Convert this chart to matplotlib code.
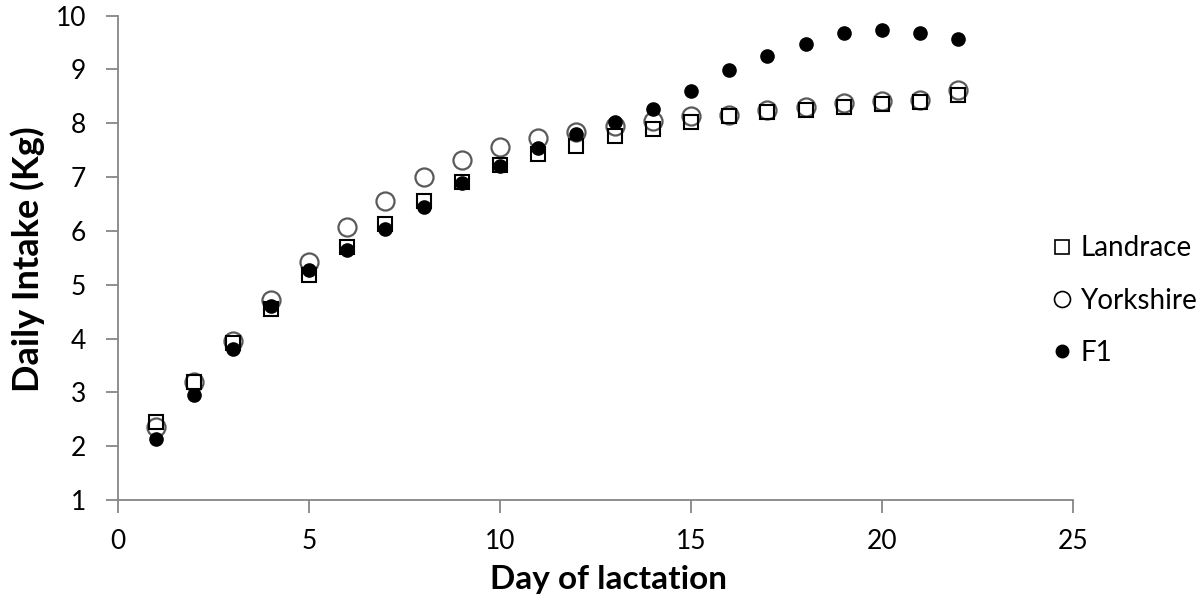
import matplotlib
matplotlib.use("Agg")
import matplotlib.pyplot as plt

plt.rcParams['font.family'] = ['Lato', 'DejaVu Sans']

days = list(range(1, 23))
landrace = [2.45, 3.20, 3.92, 4.55, 5.18, 5.70, 6.12, 6.55, 6.90, 7.22, 7.42,
            7.58, 7.76, 7.90, 8.02, 8.13, 8.20, 8.25, 8.30, 8.35, 8.40, 8.52]
yorkshire = [2.35, 3.20, 3.95, 4.72, 5.42, 6.07, 6.56, 7.00, 7.32, 7.56, 7.72,
             7.84, 7.95, 8.05, 8.13, 8.15, 8.25, 8.30, 8.37, 8.42, 8.43, 8.62]
f1 = [2.13, 2.95, 3.80, 4.60, 5.27, 5.65, 6.03, 6.45, 6.88, 7.20, 7.53,
      7.80, 8.03, 8.26, 8.60, 8.98, 9.25, 9.47, 9.68, 9.74, 9.67, 9.57]
series_names = ["Landrace", "Yorkshire", "F1"]

axis_grey = "#868686"

fig = plt.figure(figsize=(12.02, 5.98), dpi=100)
ax = fig.add_axes([0.0982, 0.1639, 0.7945, 0.8101])

ax.plot(days, yorkshire, linestyle="none", marker="o", markersize=13,
        markerfacecolor="none", markeredgecolor="#5a5a5a", markeredgewidth=1.6,
        zorder=2)
ax.plot(days, landrace, linestyle="none", marker="s", markersize=10.5,
        markerfacecolor="none", markeredgecolor="black", markeredgewidth=1.5,
        zorder=3)
ax.plot(days, f1, linestyle="none", marker="o", markersize=9.5,
        markerfacecolor="black", markeredgecolor="black", zorder=4)

ax.set_xlim(0, 25)
ax.set_ylim(1, 10)
ax.set_xticks([0, 5, 10, 15, 20, 25])
ax.set_yticks(range(1, 11))

for side in ["top", "right"]:
    ax.spines[side].set_visible(False)
for side in ["left", "bottom"]:
    ax.spines[side].set_color(axis_grey)
    ax.spines[side].set_linewidth(1.3)

ax.tick_params(axis="both", direction="out", length=9, width=1.3,
               color=axis_grey, labelsize=19, labelcolor="black")
ax.tick_params(axis="y", pad=14)
ax.tick_params(axis="x", pad=12)

ax.set_xlabel("Day of lactation", fontsize=24, fontweight="bold", va="baseline")
ax.xaxis.set_label_coords(0.514, -0.1837)
ax.set_ylabel("Daily Intake (Kg)", fontsize=26, fontweight="bold")
ax.yaxis.set_label_coords(-0.0764, 0.497)

leg_handles = [plt.Line2D([], [], linestyle="none", marker="s", markersize=10,
                          markerfacecolor="none", markeredgecolor="black", markeredgewidth=1.2),
               plt.Line2D([], [], linestyle="none", marker="o", markersize=11.5,
                          markerfacecolor="none", markeredgecolor="black", markeredgewidth=1.2),
               plt.Line2D([], [], linestyle="none", marker="o", markersize=9,
                          markerfacecolor="black", markeredgecolor="black")]
fig.legend(leg_handles, series_names, loc="center left",
           bbox_to_anchor=(0.875, 0.497), frameon=False, fontsize=20,
           handlelength=0.75, handletextpad=0.27, labelspacing=0.95, borderpad=0,
           borderaxespad=0)

fig.savefig("out.png", dpi=100)
